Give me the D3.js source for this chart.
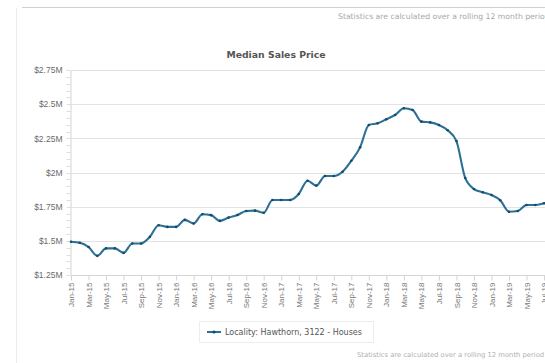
<!DOCTYPE html>
<html>
<head>
<meta charset="utf-8">
<script src="https://cdn.jsdelivr.net/npm/d3@7/dist/d3.min.js"></script>
<style>
  html, body { margin: 0; padding: 0; background: #fff; }
  svg { display: block; font-family: "DejaVu Sans", sans-serif; }
</style>
</head>
<body>
<svg id="chart" width="545" height="363"></svg>
<script>
// Monthly median sales price (millions of dollars), Hawthorn 3122 houses
const months = [
  "Jan-15","Feb-15","Mar-15","Apr-15","May-15","Jun-15","Jul-15","Aug-15","Sep-15","Oct-15","Nov-15","Dec-15",
  "Jan-16","Feb-16","Mar-16","Apr-16","May-16","Jun-16","Jul-16","Aug-16","Sep-16","Oct-16","Nov-16","Dec-16",
  "Jan-17","Feb-17","Mar-17","Apr-17","May-17","Jun-17","Jul-17","Aug-17","Sep-17","Oct-17","Nov-17","Dec-17",
  "Jan-18","Feb-18","Mar-18","Apr-18","May-18","Jun-18","Jul-18","Aug-18","Sep-18","Oct-18","Nov-18","Dec-18",
  "Jan-19","Feb-19","Mar-19","Apr-19","May-19","Jun-19","Jul-19","Aug-19"
];
const medianPrice = [
  1.493, 1.486, 1.455, 1.390, 1.445, 1.445, 1.412, 1.481, 1.481, 1.529, 1.614, 1.602,
  1.602, 1.653, 1.627, 1.695, 1.688, 1.646, 1.670, 1.689, 1.718, 1.721, 1.706, 1.799,
  1.799, 1.799, 1.843, 1.940, 1.904, 1.974, 1.974, 2.006, 2.086, 2.184, 2.348, 2.360,
  2.390, 2.421, 2.470, 2.457, 2.372, 2.367, 2.348, 2.309, 2.230, 1.960, 1.879, 1.855,
  1.835, 1.797, 1.713, 1.718, 1.762, 1.762, 1.775, 1.790
];
const yTicks = [1.25, 1.5, 1.75, 2, 2.25, 2.5, 2.75];
const yTickLabels = ["$1.25M", "$1.5M", "$1.75M", "$2M", "$2.25M", "$2.5M", "$2.75M"];
const seriesName = "Locality: Hawthorn, 3122 - Houses";
const chartTitle = "Median Sales Price";
const footNote = "Statistics are calculated over a rolling 12 month period";

const svg = d3.select("#chart");
const W = 545, H = 363;
const plot = { left: 71, top: 70, bottom: 275 };
const step = 8.76;

const x = d3.scalePoint()
  .domain(months)
  .range([plot.left, plot.left + step * (months.length - 1)]);
const y = d3.scaleLinear().domain([1.25, 2.75]).range([plot.bottom, plot.top]);

// panel frame
svg.append("line").attr("x1", 22).attr("x2", W).attr("y1", 7.5).attr("y2", 7.5)
  .attr("stroke", "#d0d0d0").attr("stroke-width", 1);
svg.append("line").attr("x1", 16.5).attr("x2", 16.5).attr("y1", 8).attr("y2", H)
  .attr("stroke", "#ececec").attr("stroke-width", 1);

svg.append("text").attr("x", 338).attr("y", 18.5)
  .attr("font-size", 7.7).attr("fill", "#a8a8a8").text(footNote);
svg.append("text").attr("x", 357).attr("y", 356.5)
  .attr("font-size", 6.8).attr("fill", "#b0b0b0").text(footNote);

svg.append("text").attr("x", 276).attr("y", 58)
  .attr("text-anchor", "middle").attr("font-size", 9.3).attr("font-weight", "bold")
  .attr("fill", "#555").text(chartTitle);

// grid lines
svg.append("g").selectAll("line").data(yTicks.slice(1)).join("line")
  .attr("x1", plot.left).attr("x2", W)
  .attr("y1", d => Math.round(y(d)) + 0.5).attr("y2", d => Math.round(y(d)) + 0.5)
  .attr("stroke", "#e3e3e3").attr("stroke-width", 1.2);

// y axis with minor ticks
const yAxis = d3.axisLeft(y).tickValues(yTicks).tickSize(0).tickPadding(8)
  .tickFormat((d, i) => yTickLabels[i]);
const gy = svg.append("g").attr("transform", `translate(${plot.left - 0.5},0)`).call(yAxis);
gy.select(".domain").attr("stroke", "#d4d4d4");
gy.selectAll("text").attr("font-size", 8.5).attr("fill", "#6a6a6a");
const minor = d3.range(1.25, 2.7501, 0.05);
gy.append("g").selectAll("line").data(minor).join("line")
  .attr("x1", -4).attr("x2", 0)
  .attr("y1", d => Math.round(y(d)) + 0.5).attr("y2", d => Math.round(y(d)) + 0.5)
  .attr("stroke", "#dedede");

// x axis
const xAxis = d3.axisBottom(x)
  .tickValues(months.filter((m, i) => i % 2 === 0))
  .tickSize(5).tickPadding(4);
const gx = svg.append("g").attr("transform", `translate(0,${plot.bottom + 0.5})`).call(xAxis);
gx.select(".domain").attr("stroke", "#d4d4d4").attr("d", `M${plot.left},0H${W}`);
gx.selectAll(".tick line").attr("stroke", "#d4d4d4");
gx.selectAll("text")
  .attr("font-size", 8).attr("fill", "#777")
  .attr("text-anchor", "end")
  .attr("transform", "rotate(-90)")
  .attr("x", -7).attr("y", 0).attr("dy", "0.32em");

// series line and markers
const line = d3.line().x((d, i) => x(months[i])).y(d => y(d)).curve(d3.curveMonotoneX);
svg.append("path").datum(medianPrice)
  .attr("d", line).attr("fill", "none")
  .attr("stroke", "#2b7197").attr("stroke-width", 2.1).attr("stroke-linejoin", "round");
svg.append("g").selectAll("circle").data(medianPrice).join("circle")
  .attr("cx", (d, i) => x(months[i])).attr("cy", d => y(d)).attr("r", 1.3)
  .attr("fill", "#164a66");

// legend
const lg = svg.append("g");
lg.append("rect").attr("x", 199.5).attr("y", 321.5).attr("width", 174).attr("height", 21)
  .attr("fill", "#fff").attr("stroke", "#ededed");
lg.append("line").attr("x1", 207).attr("x2", 221).attr("y1", 332).attr("y2", 332)
  .attr("stroke", "#2b7197").attr("stroke-width", 2);
lg.append("circle").attr("cx", 214).attr("cy", 332).attr("r", 1.6).attr("fill", "#164a66");
lg.append("text").attr("x", 225).attr("y", 335)
  .attr("font-size", 8).attr("fill", "#555").text(seriesName);
</script>
</body>
</html>
